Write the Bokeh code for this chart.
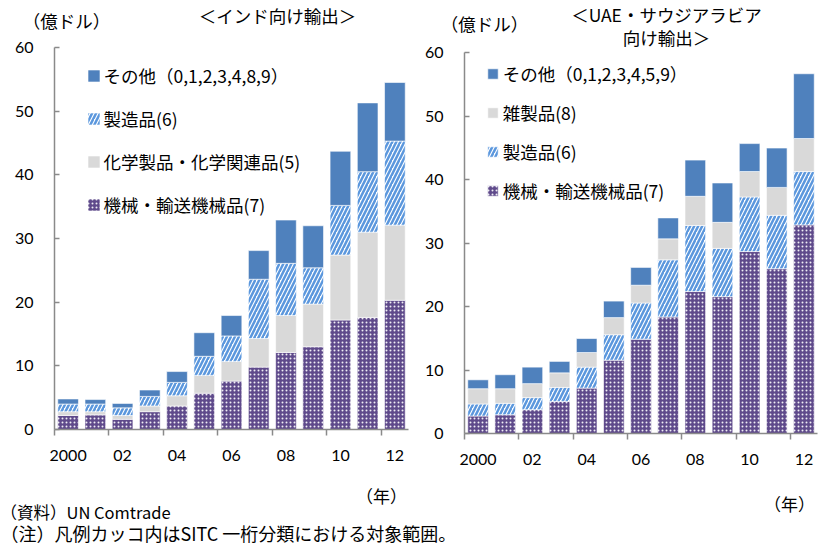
import numpy as np
from bokeh.plotting import figure
from bokeh.models import (ColumnDataSource, Range1d, FixedTicker, Legend, LegendItem,
                          Label, LinearAxis)
from bokeh.embed import file_html
from bokeh.resources import INLINE

# ---- data (100 million USD) ----
years = [2000, 2001, 2002, 2003, 2004, 2005, 2006, 2007, 2008, 2009, 2010, 2011, 2012]
tick_labels = ["2000", "02", "04", "06", "08", "10", "12"]

# exports to India
india_machinery = [2.2, 2.3, 1.6, 2.8, 3.7, 5.7, 7.6, 9.8, 12.1, 13.0, 17.2, 17.6, 20.3]
india_chemicals = [0.6, 0.5, 0.6, 0.9, 1.6, 2.8, 3.1, 4.5, 5.8, 6.7, 10.2, 13.4, 11.8]
india_manufactured = [1.2, 1.2, 1.2, 1.5, 2.1, 3.0, 4.0, 9.3, 8.2, 5.7, 7.8, 9.5, 13.2]
india_other = [0.8, 0.7, 0.7, 1.0, 1.7, 3.7, 3.2, 4.5, 6.8, 6.6, 8.5, 10.8, 9.2]

# exports to UAE and Saudi Arabia
gulf_machinery = [2.8, 3.0, 3.8, 5.1, 7.2, 11.6, 14.9, 18.4, 22.4, 21.6, 28.7, 26.0, 32.9]
gulf_manufactured = [1.9, 1.8, 1.9, 2.2, 3.3, 4.0, 5.7, 9.0, 10.4, 7.6, 8.6, 8.4, 8.4]
gulf_misc = [2.4, 2.3, 2.2, 2.3, 2.3, 2.7, 2.8, 3.3, 4.6, 4.1, 4.0, 4.4, 5.2]
gulf_other = [1.4, 2.2, 2.6, 1.8, 2.2, 2.6, 2.8, 3.3, 5.7, 6.2, 4.4, 6.2, 10.2]

JP = "Noto Sans CJK JP"
NUM = "Lato"
AXIS_GREY = "#8a8a8a"
W, H = 827, 547

STYLE_MACH = dict(fill_color="#5f4a8b", hatch_pattern=".", hatch_color="white",
                  hatch_scale=4, hatch_alpha=0.9)
STYLE_CHEM = dict(fill_color="#d9d9d9")
STYLE_MANU = dict(fill_color="white", hatch_pattern="/", hatch_color="#5b97dd",
                  hatch_scale=8, hatch_weight=2.5)
STYLE_OTHER = dict(fill_color="#4f81bd")

# one canvas in page pixels (y downwards); each chart gets its own pair of ranges
p = figure(width=W, height=H, output_backend="svg", toolbar_location=None,
           x_range=Range1d(0, W), y_range=Range1d(H, 0), min_border=0,
           x_axis_type=None, y_axis_type=None)
p.outline_line_color = None
p.grid.visible = False


def add_chart(tag, box, series, legend_cfg):
    left, right, top, bottom = box          # plot area edges in page pixels
    n = len(years)
    x0, x1, y0, y1 = -0.5, n - 0.5, 0, 60
    ux = (x1 - x0) / (right - left)
    uy = (y1 - y0) / (bottom - top)
    p.extra_x_ranges[tag + "x"] = Range1d(x0 - left * ux, x0 + (W - left) * ux)
    p.extra_y_ranges[tag + "y"] = Range1d(y0 - (H - bottom) * uy, y0 + bottom * uy)
    rx, ry = tag + "x", tag + "y"

    data = {"x": list(range(n))}
    base = np.zeros(n)
    for i, (_, vals, _) in enumerate(series):
        vals = np.asarray(vals, dtype=float)
        data[f"b{i}"] = base.copy()
        data[f"t{i}"] = base + vals
        base = base + vals
    src = ColumnDataSource(data)
    renderers = []
    for i, (name, _, style) in enumerate(series):
        r = p.vbar(x="x", width=0.76, bottom=f"b{i}", top=f"t{i}", source=src,
                   x_range_name=rx, y_range_name=ry,
                   line_color="white", line_width=0.6, **style)
        renderers.append((name, r))

    yax = LinearAxis(x_range_name=rx, y_range_name=ry, fixed_location=x0,
                     bounds=(y0, y1), ticker=FixedTicker(ticks=[0, 10, 20, 30, 40, 50, 60]))
    yax.major_tick_in = 5
    yax.major_tick_out = 0
    yax.minor_tick_in = 0
    yax.minor_tick_out = 0
    yax.major_label_standoff = 21
    p.add_layout(yax, "left")

    xax = LinearAxis(x_range_name=rx, y_range_name=ry, fixed_location=y0,
                     bounds=(x0, x1),
                     ticker=FixedTicker(ticks=[0, 2, 4, 6, 8, 10, 12],
                                        minor_ticks=[-0.5, 1.5, 3.5, 5.5, 7.5, 9.5, 11.5]))
    xax.major_label_overrides = {i * 2: lab for i, lab in enumerate(tick_labels)}
    xax.major_tick_in = 0
    xax.major_tick_out = 0
    xax.minor_tick_in = 0
    xax.minor_tick_out = 6
    xax.minor_tick_line_color = AXIS_GREY
    xax.minor_tick_line_width = 1.5
    xax.major_label_standoff = 14
    p.add_layout(xax, "below")

    for ax in (xax, yax):
        ax.axis_line_color = AXIS_GREY
        ax.axis_line_width = 1.5
        ax.major_tick_line_color = AXIS_GREY
        ax.major_tick_line_width = 1.5
        ax.major_label_text_font = NUM
        ax.major_label_text_font_size = "16px"
        ax.major_label_text_color = "black"

    gx, gy_bottom, gsize, spacing, standoff = legend_cfg
    items = [LegendItem(label=name, renderers=[r]) for name, r in reversed(renderers)]
    legend = Legend(items=items, location=(gx, H - gy_bottom), glyph_width=gsize,
                    glyph_height=gsize, label_height=22, spacing=spacing, padding=0,
                    margin=0, label_standoff=standoff, border_line_color=None,
                    background_fill_alpha=0, label_text_font=JP,
                    label_text_font_size="17.5px", label_text_color="black")
    p.add_layout(legend)


india_series = [
    ("機械・輸送機械品(7)", india_machinery, STYLE_MACH),
    ("化学製品・化学関連品(5)", india_chemicals, STYLE_CHEM),
    ("製造品(6)", india_manufactured, STYLE_MANU),
    ("その他（0,1,2,3,4,8,9）", india_other, STYLE_OTHER),
]
gulf_series = [
    ("機械・輸送機械品(7)", gulf_machinery, STYLE_MACH),
    ("製造品(6)", gulf_manufactured, STYLE_MANU),
    ("雑製品(8)", gulf_misc, STYLE_CHEM),
    ("その他（0,1,2,3,4,5,9）", gulf_other, STYLE_OTHER),
]

add_chart("i", (54, 408, 47, 429), india_series, (85.5, 217, 15, 18, 3))
add_chart("g", (464, 817, 52.3, 433.3), gulf_series, (485.7, 203, 13, 14, 4))

# titles, units and notes, placed in page pixels
texts = [
    ("＜インド向け輸出＞", 277, 15, "center", 17.5),
    ("（億ドル）", 66, 20, "center", 17.5),
    ("＜UAE・サウジアラビア", 666, 13.5, "center", 17.5),
    ("向け輸出＞", 666, 36.5, "center", 17.5),
    ("（億ドル）", 484, 23, "center", 17.5),
    ("（年）", 381, 495, "center", 17),
    ("（年）", 789, 503, "center", 17),
    ("（資料）UN Comtrade", 0, 511, "left", 16.5),
    ("（注）凡例カッコ内はSITC 一桁分類における対象範囲。", 0, 532, "left", 18),
]
for text, px, py, align, size in texts:
    p.add_layout(Label(x=px, y=py, text=text, text_align=align, text_baseline="middle",
                       text_font=JP, text_font_size=f"{size}px", text_color="black"))

open("out.html", "w").write(file_html(p, INLINE))
